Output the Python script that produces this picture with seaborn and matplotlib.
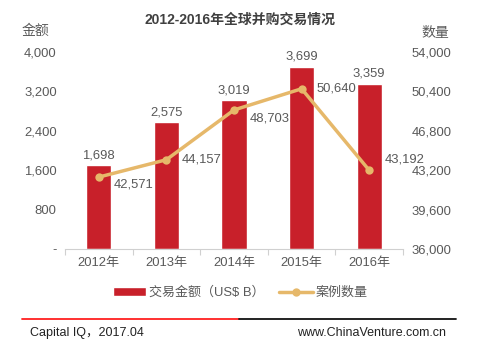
import matplotlib
matplotlib.use("Agg")
import matplotlib.pyplot as plt
import seaborn as sns
import pandas as pd
from matplotlib.ticker import FuncFormatter

# data
years = ['2012年', '2013年', '2014年', '2015年', '2016年']
amount = [1698, 2575, 3019, 3699, 3359]       # 交易金额 (US$ B)
deals = [42571, 44157, 48703, 50640, 43192]   # 案例数量

df = pd.DataFrame({'year': years, 'amount': amount, 'deals': deals})

sns.set_theme(style='white')
plt.rcParams['font.family'] = ['Liberation Sans', 'Noto Sans CJK SC', 'DejaVu Sans']
plt.rcParams['legend.handleheight'] = 0.6

grey = '#595959'
bar_c = '#C8202A'
line_c = '#E6B86A'
fs = 9.4

fig = plt.figure(figsize=(4.8, 3.52), dpi=100)
ax = fig.add_axes([0.1354, 0.2926, 0.7042, 0.5597])

sns.barplot(data=df, x='year', y='amount', color=bar_c, width=0.37,
            saturation=1, ax=ax, label='交易金额（US$ B）')
ax.set_ylim(0, 4000)
ax.set_yticks(range(0, 4001, 800))
ax.yaxis.set_major_formatter(FuncFormatter(lambda v, p: '-' if v == 0 else f'{int(v):,}'))
ax.set_xlim(-0.5, 4.5)
ax.set_xlabel('')
ax.set_ylabel('')

for i, v in enumerate(amount):
    ax.annotate(f'{v:,}', (i, v), xytext=(0, 3), textcoords='offset points',
                ha='center', va='bottom', fontsize=fs, color=grey)

ax2 = ax.twinx()
sns.lineplot(x=list(range(len(years))), y=deals, ax=ax2, color=line_c,
             linewidth=2.5, marker='o', markersize=6, markeredgewidth=0,
             label='案例数量', legend=False)
ax2.set_ylim(36000, 54000)
ax2.set_yticks(range(36000, 54001, 3600))
ax2.yaxis.set_major_formatter(FuncFormatter(lambda v, p: f'{int(v):,}'))
ax2.set_xlim(-0.5, 4.5)

dy = [-5, 0, -6, 0, 8]
for i, v in enumerate(deals):
    ax2.annotate(f'{v:,}', (i, v), xytext=(11, dy[i]), textcoords='offset points',
                 ha='left', va='center', fontsize=fs, color=grey)

for a in (ax, ax2):
    for s in a.spines.values():
        s.set_visible(False)
    a.tick_params(axis='y', length=0, labelsize=fs, labelcolor=grey, pad=6)
ax.spines['bottom'].set_visible(True)
ax.spines['bottom'].set_color('#d0d0d0')
ax.spines['bottom'].set_linewidth(0.8)
ax.set_xticks([x - 0.5 for x in range(6)], minor=True)
ax.tick_params(axis='x', which='major', length=0, labelsize=fs, labelcolor=grey, pad=6)
ax.tick_params(axis='x', which='minor', length=4, color='#d0d0d0', width=0.8, bottom=True)
ax2.tick_params(axis='y', pad=6)

# legend
h1, l1 = ax.get_legend_handles_labels()
h2, l2 = ax2.get_legend_handles_labels()
if ax.get_legend():
    ax.get_legend().remove()
fig.legend(h1 + h2, l1 + l2, loc='center', bbox_to_anchor=(0.5, 0.168), ncol=2,
           frameon=False, fontsize=fs, labelcolor=grey, handlelength=2.6,
           handletextpad=0.2, columnspacing=1.1)

fig.text(0.5, 0.943, '2012-2016年全球并购交易情况', ha='center', va='center',
         fontsize=10, fontweight='bold', color='#404040')
fig.text(0.073, 0.912, '金额', ha='center', va='center', fontsize=10, color=grey)
fig.text(0.906, 0.905, '数量', ha='center', va='center', fontsize=10, color=grey)

# footer
fig.add_artist(plt.Line2D([0.046, 0.498], [0.094, 0.094], color='#FF2020', lw=1.3))
fig.add_artist(plt.Line2D([0.498, 0.95], [0.094, 0.094], color='#111111', lw=1.3))
fig.text(0.063, 0.055, 'Capital IQ，2017.04', ha='left', va='center', fontsize=9, color='#222222')
fig.text(0.93, 0.055, 'www.ChinaVenture.com.cn', ha='right', va='center', fontsize=9, color='#222222')

fig.savefig('out.png', dpi=100)
